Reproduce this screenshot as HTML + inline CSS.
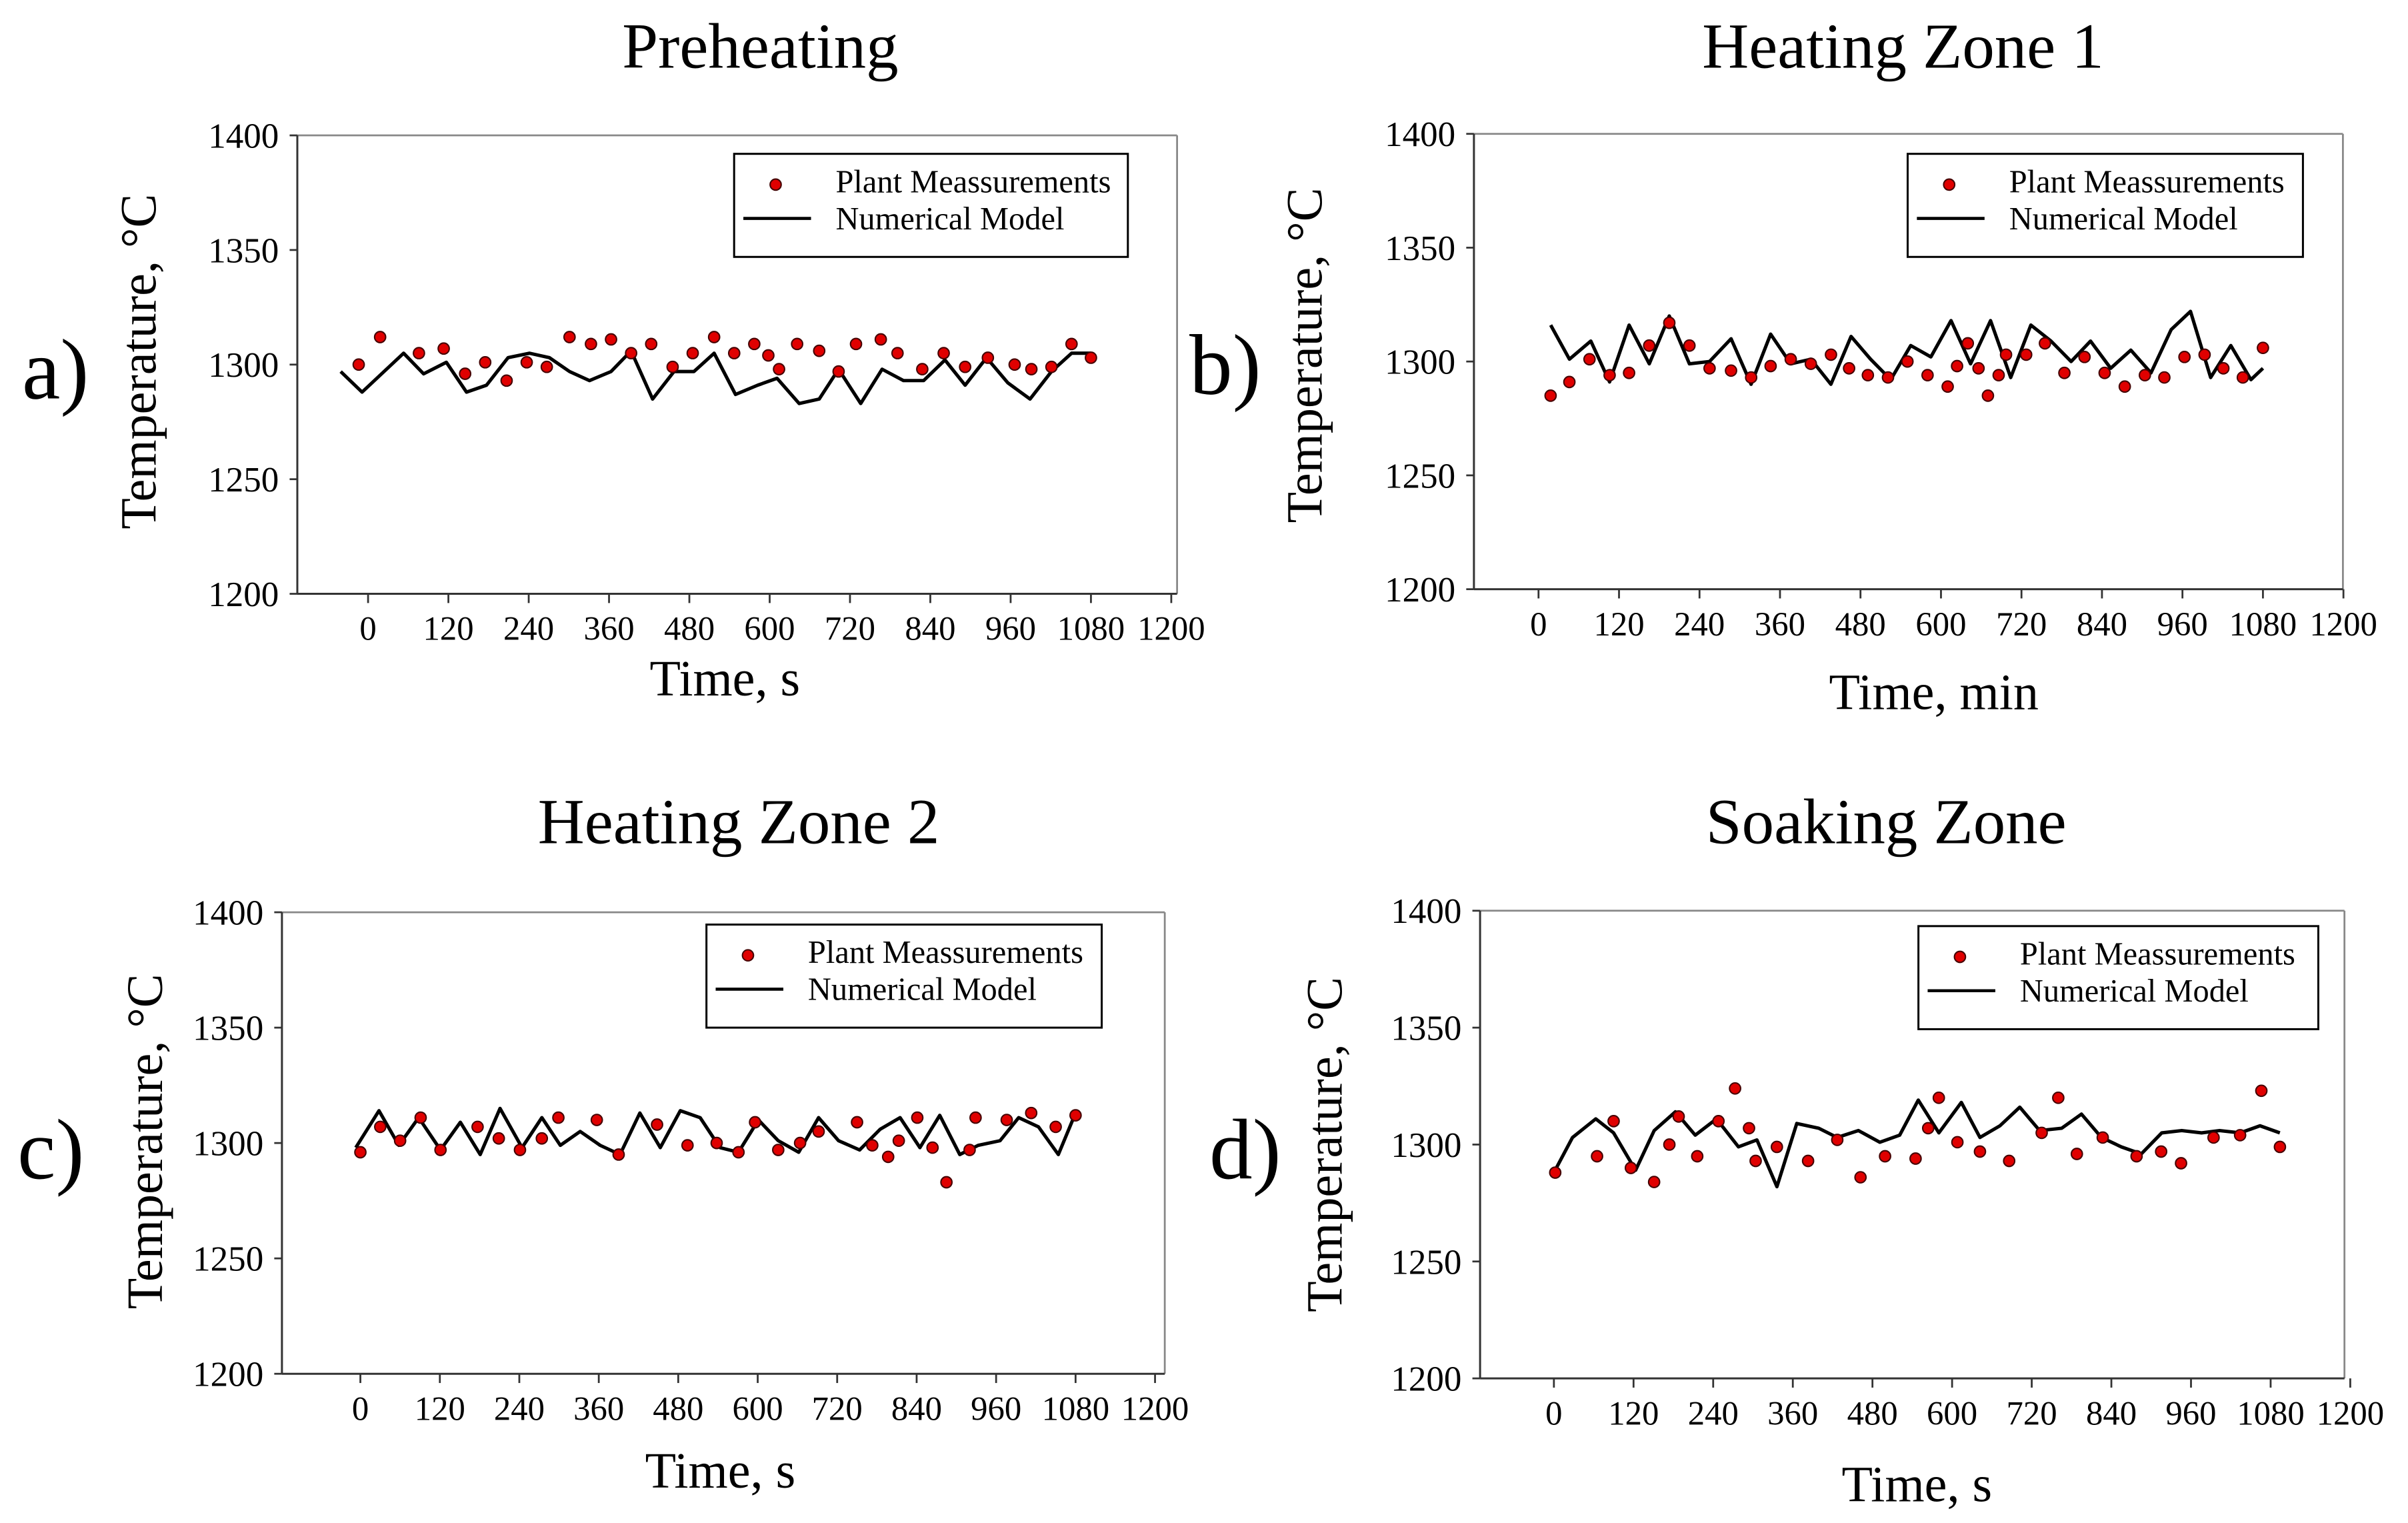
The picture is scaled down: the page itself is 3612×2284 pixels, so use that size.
<!DOCTYPE html>
<html><head><meta charset="utf-8">
<style>
html,body{margin:0;padding:0;background:#fff;}
svg{display:block;}
text{font-family:"Liberation Serif",serif;fill:#000;}
</style></head>
<body>
<svg id="fig" width="3612" height="2284" viewBox="0 0 1565 990" xmlns="http://www.w3.org/2000/svg"></svg>
<script>
// Panel a: Preheating
const aPtsX=[-14,18,76,113,145,175,207,237,267,301,333,363,393,423,455,485,517,547,577,598,614,641,674,703,729,766,791,828,860,892,926,966,991,1021,1051,1080];
const aPtsY=[1300,1312,1305,1307,1296,1301,1293,1301,1299,1312,1309,1311,1305,1309,1299,1305,1312,1305,1309,1304,1298,1309,1306,1297,1309,1311,1305,1298,1305,1299,1303,1300,1298,1299,1309,1303];
const aLineX=[-41,-9,53,83,117,147,177,209,241,271,301,331,363,393,425,457,487,517,549,582,611,644,674,703,736,768,800,830,862,892,924,956,989,1021,1051,1080];
const aLineY=[1297,1288,1305,1296,1301,1288,1291,1303,1305,1303,1297,1293,1297,1306,1285,1297,1297,1305,1287,1291,1294,1283,1285,1298,1283,1298,1293,1293,1302,1291,1303,1292,1285,1297,1305,1305];
// Panel b: Heating Zone 1
const bPtsX=[18,46,76,106,135,165,195,225,255,287,317,346,376,406,436,463,491,521,550,580,610,624,640,656,670,686,697,727,755,784,814,844,874,904,933,963,993,1021,1050,1080];
const bPtsY=[1285,1291,1301,1294,1295,1307,1317,1307,1297,1296,1293,1298,1301,1299,1303,1297,1294,1293,1300,1294,1289,1298,1308,1297,1285,1294,1303,1303,1308,1295,1302,1295,1289,1294,1293,1302,1303,1297,1293,1306];
const bLineX=[18,46,78,106,135,165,195,225,255,287,317,346,376,406,436,466,495,525,555,585,615,644,674,704,734,764,794,823,853,883,913,943,972,1002,1032,1062,1080];
const bLineY=[1316,1301,1309,1291,1316,1299,1320,1299,1300,1310,1290,1312,1299,1301,1290,1311,1301,1292,1307,1302,1318,1299,1318,1293,1316,1309,1300,1309,1297,1305,1295,1314,1322,1293,1307,1292,1297];
// Panel c: Heating Zone 2
const cPtsX=[0,30,60,91,121,177,209,241,274,299,357,390,448,494,538,571,596,631,664,692,750,773,797,813,841,864,885,920,929,976,1013,1050,1080];
const cPtsY=[1296,1307,1301,1311,1297,1307,1302,1297,1302,1311,1310,1295,1308,1299,1300,1296,1309,1297,1300,1305,1309,1299,1294,1301,1311,1298,1283,1297,1311,1310,1313,1307,1312];
const cLineX=[-7,28,58,88,121,151,181,211,244,274,302,332,362,392,422,453,483,513,543,571,601,631,662,692,722,754,785,815,845,875,905,933,966,994,1024,1054,1080];
const cLineY=[1298,1314,1299,1311,1297,1309,1295,1315,1298,1311,1299,1305,1299,1295,1313,1298,1314,1311,1298,1296,1310,1301,1296,1311,1301,1297,1306,1311,1298,1312,1295,1299,1301,1311,1307,1295,1313];
// Panel d: Soaking Zone
const dPtsX=[2,65,90,116,151,174,188,216,248,273,294,304,336,383,427,462,499,545,564,580,608,642,686,735,760,788,827,878,915,945,994,1034,1066,1094];
const dPtsY=[1288,1295,1310,1290,1284,1300,1312,1295,1310,1324,1307,1293,1299,1293,1302,1286,1295,1294,1307,1320,1301,1297,1293,1305,1320,1296,1303,1295,1297,1292,1303,1304,1323,1299];
const dLineX=[0,28,63,90,123,151,183,213,245,278,306,336,366,399,427,459,491,521,549,580,614,642,672,702,732,765,795,825,855,885,916,946,976,1003,1034,1064,1094];
const dLineY=[1288,1303,1311,1305,1289,1306,1314,1304,1311,1299,1302,1282,1309,1307,1303,1306,1301,1304,1319,1305,1318,1303,1308,1316,1306,1307,1313,1303,1299,1296,1305,1306,1305,1306,1305,1308,1305];

const xTicks=["0","120","240","360","480","600","720","840","960","1080","1200"];
const xTickVals=[0,120,240,360,480,600,720,840,960,1080,1200];
const yTicks=["1200","1250","1300","1350","1400"];
const yTickVals=[1200,1250,1300,1350,1400];

const NS="http://www.w3.org/2000/svg";
const svg=document.getElementById('fig');
function mk(tag,attrs,parent){const e=document.createElementNS(NS,tag);for(const k in attrs)e.setAttribute(k,attrs[k]);(parent||svg).appendChild(e);return e;}

const panels=[
 {id:'a',title:'Preheating',tx:494,ty:44,letter:'a)',lx:14,ly:259,box:[193,88,765,386],x0:239,x1080:709,ytx:101,yty:235,xt:'Time, s',xtx:471,xty:452,leg:[477,100,733,167],px:aPtsX,py:aPtsY,lxs:aLineX,lys:aLineY},
 {id:'b',title:'Heating Zone 1',tx:1237,ty:44,letter:'b)',lx:773,ly:256,box:[958,87,1523,383],x0:1000,x1080:1471,ytx:859,yty:231,xt:'Time, min',xtx:1257,xty:461,leg:[1240,100,1497,167],px:bPtsX,py:bPtsY,lxs:bLineX,lys:bLineY},
 {id:'c',title:'Heating Zone 2',tx:480,ty:548,letter:'c)',lx:11,ly:766,box:[183,593,757,893],x0:234,x1080:699,ytx:105,yty:742,xt:'Time, s',xtx:468,xty:967,leg:[459,601,716,668],px:cPtsX,py:cPtsY,lxs:cLineX,lys:cLineY},
 {id:'d',title:'Soaking Zone',tx:1226,ty:548,letter:'d)',lx:786,ly:766,box:[962,592,1524,896],x0:1010,x1080:1476,ytx:872,yty:744,xt:'Time, s',xtx:1246,xty:976,leg:[1247,602,1507,669],px:dPtsX,py:dPtsY,lxs:dLineX,lys:dLineY}
];

panels.forEach(p=>{
  const g=mk('g',{});
  
  
  const [L,T,R,B]=p.box;
  const xs=v=>p.x0+(v)*(p.x1080-p.x0)/1080;
  const ys=v=>B-(v-1200)*(B-T)/200;
  let t=mk('text',{x:p.tx,y:p.ty,'text-anchor':'middle','font-size':42},g);t.textContent=p.title;
  
  t=mk('text',{x:p.lx,y:p.ly,'font-size':56},g);t.textContent=p.letter;
  
  t=mk('text',{x:0,y:0,'text-anchor':'middle','font-size':33,transform:`translate(${p.ytx},${p.yty}) rotate(-90)`},g);t.textContent='Temperature, °C';
  
  t=mk('text',{x:p.xtx,y:p.xty,'text-anchor':'middle','font-size':33},g);t.textContent=p.xt;
  
  mk('line',{x1:L,y1:T,x2:R,y2:T,stroke:'#888','stroke-width':1.2},g);
  mk('line',{x1:R,y1:T,x2:R,y2:B,stroke:'#888','stroke-width':1.2},g);
  const ax=mk('line',{x1:L,y1:T,x2:L,y2:B,stroke:'#333','stroke-width':1.3},g);
  
  const bx=mk('line',{x1:L,y1:B,x2:R,y2:B,stroke:'#333','stroke-width':1.3},g);
  
  yTickVals.forEach((v,i)=>{
    mk('line',{x1:L-5,y1:ys(v),x2:L,y2:ys(v),stroke:'#333','stroke-width':1.2},g);
    const tt=mk('text',{x:L-12,y:ys(v)+8,'text-anchor':'end','font-size':23},g);tt.textContent=yTicks[i];
    
  });
  xTickVals.forEach((v,i)=>{
    mk('line',{x1:xs(v),y1:B,x2:xs(v),y2:B+6,stroke:'#333','stroke-width':1.2},g);
    const tt=mk('text',{x:xs(v),y:B+30,'text-anchor':'middle','font-size':22},g);tt.textContent=xTicks[i];
    
  });
  const d=p.lxs.map((v,i)=>(i?'L':'M')+xs(v).toFixed(1)+','+ys(p.lys[i]).toFixed(1)).join(' ');
  const pl=mk('path',{d:d,fill:'none',stroke:'#000','stroke-width':2.2,'stroke-linejoin':'round'},g);
  
  p.px.forEach((v,i)=>{
    const c=mk('circle',{cx:xs(v),cy:ys(p.py[i]),r:3.6,fill:'#e00000',stroke:'#400','stroke-width':0.9},g);
    
  });
  const [a,b,c2,d2]=p.leg;
  const lg=mk('g',{},g);
  
  mk('rect',{x:a,y:b,width:c2-a,height:d2-b,fill:'#fff',stroke:'#000','stroke-width':1.3},lg);
  mk('circle',{cx:a+27,cy:b+20,r:3.6,fill:'#e00000',stroke:'#400','stroke-width':0.9},lg);
  mk('line',{x1:a+6,y1:b+42,x2:a+50,y2:b+42,stroke:'#000','stroke-width':2},lg);
  t=mk('text',{x:a+66,y:b+25,'font-size':21},lg);t.textContent='Plant Meassurements';
  
  t=mk('text',{x:a+66,y:b+49,'font-size':21},lg);t.textContent='Numerical Model';
  
});
</script>
</body></html>
